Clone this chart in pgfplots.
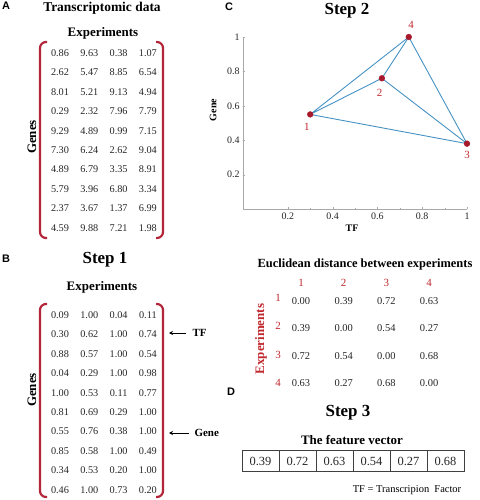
\documentclass[border=0pt]{standalone}
\usepackage{fontspec}
\setmainfont{Liberation Serif}
\newfontfamily\sansf{Liberation Sans}
\usepackage{pgfplots}
\pgfplotsset{compat=1.18}
\usetikzlibrary{arrows.meta}
\definecolor{bred}{HTML}{B3263A}
\definecolor{tred}{HTML}{C0282E}
\definecolor{pred}{HTML}{A8192C}
\definecolor{lblue}{HTML}{4592C2}
\definecolor{agray}{HTML}{A8A8A8}
\newcommand{\fs}[1]{\fontsize{#1}{#1}\selectfont}
\begin{document}
\begin{tikzpicture}
\path[use as bounding box] (0bp,0bp) rectangle (480bp,-500bp);
\begin{scope}[x=1bp,y=-1bp]
% panel letters
\node[font=\sansf\bfseries\fs{11}] at (6,6) {A};
\node[font=\sansf\bfseries\fs{11}] at (6,259) {B};
\node[font=\sansf\bfseries\fs{11}] at (229,7) {C};
\node[font=\sansf\bfseries\fs{11}] at (231,392) {D};
% Panel A
\node[font=\bfseries\fs{13.5}] at (102,8) {Transcriptomic data};
\node[font=\bfseries\fs{13}] at (103,33) {Experiments};
\node[font=\bfseries\fs{13}, rotate=90] at (32,137) {Genes};
\draw[bred, line width=2.2bp, rounded corners=6bp] (47,42) -- (40,42) -- (40,238) -- (47,238);
\draw[bred, line width=2.2bp, rounded corners=6bp] (156,42) -- (163,42) -- (163,238) -- (156,238);
\foreach \r [count=\i from 0] in {{0.86,9.63,0.38,1.07},{2.62,5.47,8.85,6.54},{8.01,5.21,9.13,4.94},{0.29,2.32,7.96,7.79},{9.29,4.89,0.99,7.15},{7.30,6.24,2.62,9.04},{4.89,6.79,3.35,8.91},{5.79,3.96,6.80,3.34},{2.37,3.67,1.37,6.99},{4.59,9.88,7.21,1.98}}{
  \foreach \v [count=\j from 0] in \r {
    \node[font=\fs{10.3}, text=black!85] at (60+29.3*\j, 53+19.44*\i) {\v};
  }
}
% Panel B
\node[font=\bfseries\fs{17}] at (105,260) {Step 1};
\node[font=\bfseries\fs{13}] at (102,287) {Experiments};
\node[font=\bfseries\fs{13}, rotate=90] at (32,390) {Genes};
\draw[bred, line width=2.2bp, rounded corners=6bp] (47,304) -- (40,304) -- (40,497) -- (47,497);
\draw[bred, line width=2.2bp, rounded corners=6bp] (156,304) -- (163,304) -- (163,497) -- (156,497);
\foreach \r [count=\i from 0] in {{0.09,1.00,0.04,0.11},{0.30,0.62,1.00,0.74},{0.88,0.57,1.00,0.54},{0.04,0.29,1.00,0.98},{1.00,0.53,0.11,0.77},{0.81,0.69,0.29,1.00},{0.55,0.76,0.38,1.00},{0.85,0.58,1.00,0.49},{0.34,0.53,0.20,1.00},{0.46,1.00,0.73,0.20}}{
  \foreach \v [count=\j from 0] in \r {
    \node[font=\fs{10.3}, text=black!85] at (60+29.3*\j, 315+19.44*\i) {\v};
  }
}
\draw[-{Stealth[length=4bp,width=4bp]}, line width=0.8bp] (186,333) -- (169,333);
\node[font=\bfseries\fs{11}, anchor=west] at (189,333) {TF};
\draw[-{Stealth[length=4bp,width=4bp]}, line width=0.8bp] (189,433) -- (169,433);
\node[font=\bfseries\fs{11}, anchor=west] at (191,433) {Gene};
% Panel C texts
\node[font=\bfseries\fs{17}] at (347,11) {Step 2};
\node[font=\bfseries\fs{10}, rotate=90] at (213,110) {Gene};
\node[font=\bfseries\fs{10}] at (352,228) {TF};
% Euclidean distance
\node[font=\bfseries\fs{12.5}] at (365,265) {Euclidean distance between experiments};
\node[font=\bfseries\fs{13}, rotate=90, text=tred] at (261,339) {Experiments};
\foreach \k [count=\j from 0] in {1,2,3,4}{
  \node[font=\fs{11}, text=tred] at (301+42.7*\j, 283) {\k};
  \node[font=\fs{11}, text=tred] at (278, 298+28.3*\j) {\k};
}
\foreach \r [count=\i from 0] in {{0.00,0.39,0.72,0.63},{0.39,0.00,0.54,0.27},{0.72,0.54,0.00,0.68},{0.63,0.27,0.68,0.00}}{
  \foreach \v [count=\j from 0] in \r {
    \node[font=\fs{10.5}, text=black!85] at (301+42.7*\j, 301+27.3*\i) {\v};
  }
}
% Panel D
\node[font=\bfseries\fs{17}] at (348,413) {Step 3};
\node[font=\bfseries\fs{13}] at (352,440) {The feature vector};
\draw[black!75, line width=0.8bp] (242,450) rectangle (464,471);
\foreach \v [count=\j from 0] in {0.39,0.72,0.63,0.54,0.27,0.68}{
  \node[font=\fs{12.5}, text=black!85] at (260.5+37*\j, 461) {\v};
}
\foreach \j in {1,...,5}{
  \draw[black!75, line width=0.8bp] (242+37*\j,450) -- (242+37*\j,471);
}
\node[font=\fs{10.5}] at (407,490) {TF = Transcripion\ \ Factor};
\end{scope}
\begin{axis}[at={(243bp,-209bp)}, anchor=south west, scale only axis,
  width=224bp, height=172bp, xmin=0, xmax=1, ymin=0, ymax=1,
  axis x line*=bottom, axis y line*=left,
  axis line style={agray, line width=0.6pt},
  xtick={0.2,0.4,0.6,0.8,1}, ytick={0.2,0.4,0.6,0.8,1},
  tick style={agray}, tick align=inside, major tick length=2bp,
  minor tick num=1, minor tick length=1.2bp,
  ticklabel style={font=\fs{10}, text=black!85},
  /pgf/number format/assume math mode=true,
  clip=false]
\addplot[lblue, line width=0.9pt] coordinates {(0.30,0.55) (0.62,0.76) (1.00,0.38) (0.30,0.55) (0.74,1.00) (1.00,0.38)};
\addplot[lblue, line width=0.9pt] coordinates {(0.62,0.76) (0.74,1.00)};
\addplot[only marks, mark=*, mark size=2.9bp, pred, mark options={draw=pred, fill=pred}] coordinates {(0.30,0.55) (0.62,0.76) (1.00,0.38) (0.74,1.00)};
\node[font=\fs{11}, text=tred] at (axis cs:0.285,0.48) {1};
\node[font=\fs{11}, text=tred] at (axis cs:0.61,0.675) {2};
\node[font=\fs{11}, text=tred] at (axis cs:1.0,0.315) {3};
\node[font=\fs{11}, text=tred] at (axis cs:0.75,1.07) {4};
\end{axis}
\end{tikzpicture}
\end{document}
